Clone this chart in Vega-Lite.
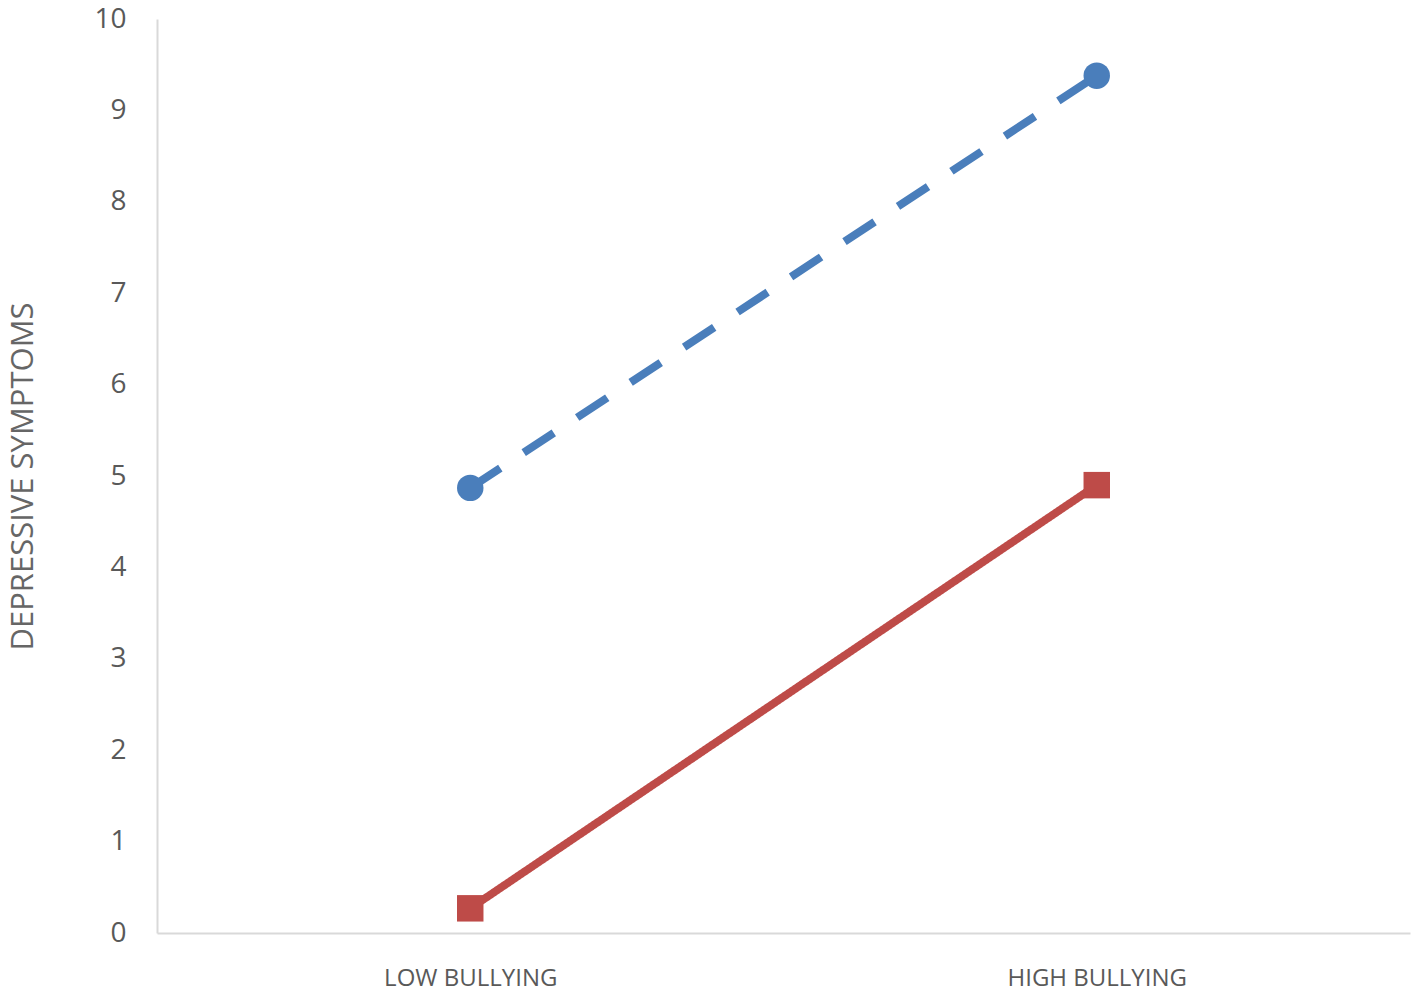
{
  "$schema": "https://vega.github.io/schema/vega-lite/v6.json",
  "width": 1253,
  "height": 914,
  "autosize": {"type": "none"},
  "padding": {"left": 157, "top": 19, "right": 6, "bottom": 62},
  "background": "white",
  "config": {
    "view": {"stroke": null},
    "font": "Open Sans"
  },
  "data": {
    "values": [
      {"series": "A", "bullying": "LOW BULLYING", "symptoms": 4.87},
      {"series": "A", "bullying": "HIGH BULLYING", "symptoms": 9.38},
      {"series": "B", "bullying": "LOW BULLYING", "symptoms": 0.27},
      {"series": "B", "bullying": "HIGH BULLYING", "symptoms": 4.9}
    ]
  },
  "encoding": {
    "x": {
      "field": "bullying",
      "type": "nominal",
      "sort": ["LOW BULLYING", "HIGH BULLYING"],
      "scale": {"type": "point", "padding": 0.5},
      "axis": {
        "title": null,
        "labelAngle": 0,
        "labelLimit": 0,
        "ticks": false,
        "grid": false,
        "domainColor": "#d9d9d9",
        "domainWidth": 2,
        "labelColor": "#595959",
        "labelFontSize": 24,
        "labelPadding": 33
      }
    },
    "y": {
      "field": "symptoms",
      "type": "quantitative",
      "scale": {"domain": [0, 10], "nice": false},
      "axis": {
        "title": "DEPRESSIVE SYMPTOMS",
        "titleColor": "#666666",
        "titleFontSize": 31,
        "titleFontWeight": "normal",
        "titleX": -134,
        "titleBaseline": "middle",
        "values": [0, 1, 2, 3, 4, 5, 6, 7, 8, 9, 10],
        "ticks": false,
        "grid": false,
        "domainColor": "#d9d9d9",
        "domainWidth": 2,
        "labelColor": "#595959",
        "labelFontSize": 28,
        "labelPadding": 31
      }
    },
    "color": {
      "field": "series",
      "type": "nominal",
      "scale": {"domain": ["A", "B"], "range": ["#4a7ebb", "#be4b48"]},
      "legend": null
    }
  },
  "layer": [
    {
      "mark": {"type": "line", "strokeWidth": 8, "strokeCap": "butt"},
      "encoding": {
        "strokeDash": {
          "field": "series",
          "type": "nominal",
          "scale": {"domain": ["A", "B"], "range": [[36, 28], [1, 0]]},
          "legend": null
        }
      }
    },
    {
      "mark": {"type": "point", "filled": true, "size": 700, "opacity": 1},
      "encoding": {
        "shape": {
          "field": "series",
          "type": "nominal",
          "scale": {"domain": ["A", "B"], "range": ["circle", "square"]},
          "legend": null
        }
      }
    }
  ]
}
